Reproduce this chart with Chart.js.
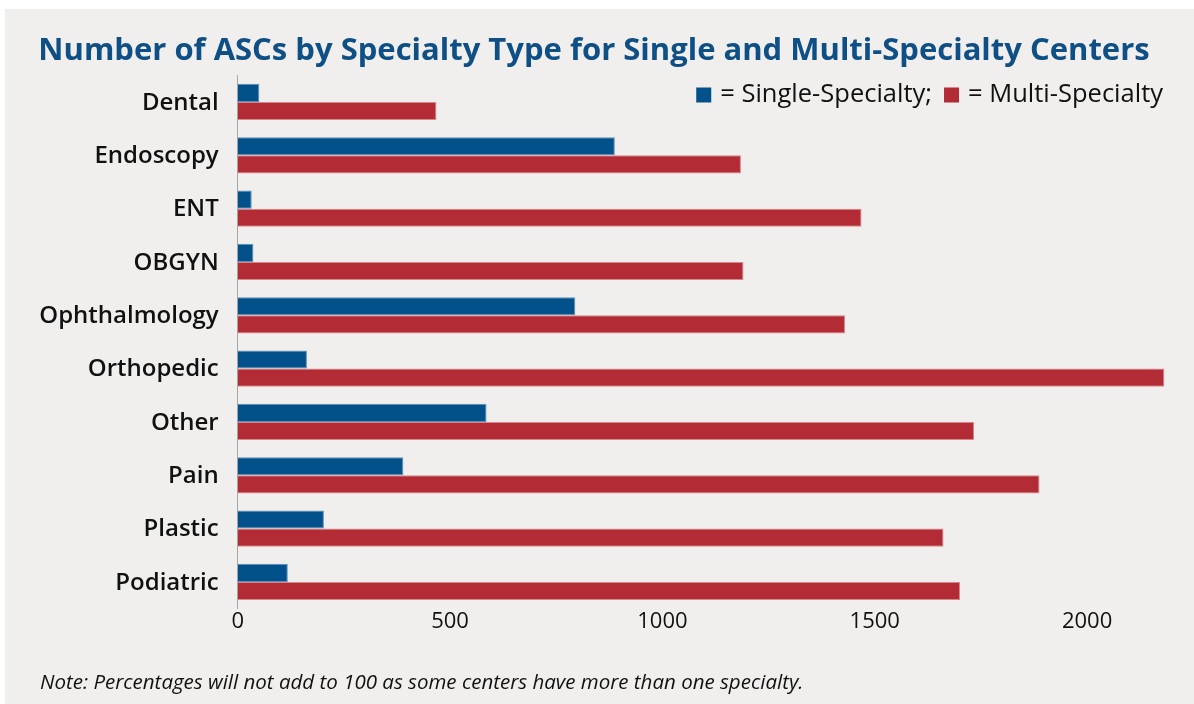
<!DOCTYPE html>
<html>
<head>
    <title>ASCs by Specialty</title>
    <script src="https://cdn.jsdelivr.net/npm/chart.js"></script>
    <style>
        body { margin: 0; background: #ffffff; }
        #panel { position: absolute; left: 5px; top: 9px; width: 1189px; height: 695px; background: #f0efed; }
    </style>
</head>
<body>
    <div id="panel"><canvas id="ascChart" width="1189" height="695"></canvas></div>

    <script>
        var specialties = ['Dental', 'Endoscopy', 'ENT', 'OBGYN', 'Ophthalmology', 'Orthopedic', 'Other', 'Pain', 'Plastic', 'Podiatric'];
        var singleSpecialty = [51, 888, 33, 37, 795, 163, 586, 390, 203, 118];
        var multiSpecialty = [468, 1185, 1469, 1191, 1430, 2182, 1734, 1888, 1662, 1701];
        var axisTicks = [0, 500, 1000, 1500, 2000];
        var noteText = 'Note: Percentages will not add to 100 as some centers have more than one specialty.';

        var fontFamily = "'Open Sans', 'DejaVu Sans', sans-serif";
        var ctx = document.getElementById('ascChart').getContext('2d');

        // legend inside the plot (top right) and the note under the axis
        var extras = {
            id: 'extras',
            afterDraw: function(chart) {
                var c = chart.ctx;
                var sets = chart.data.datasets;
                var box = 15, gap = 9, itemGap = 12;
                var right = 1158, midY = 86;
                c.save();
                c.font = '25.5px ' + fontFamily;
                c.textBaseline = 'middle';
                c.textAlign = 'left';
                var total = 0;
                sets.forEach(function(ds, i) {
                    total += box + gap + c.measureText(ds.label).width + (i < sets.length - 1 ? itemGap : 0);
                });
                var x = right - total;
                sets.forEach(function(ds) {
                    c.fillStyle = ds.backgroundColor;
                    c.fillRect(x, midY - box / 2, box, box);
                    x += box + gap;
                    c.fillStyle = '#111111';
                    c.fillText(ds.label, x, midY);
                    x += c.measureText(ds.label).width + itemGap;
                });

                c.font = 'italic 20.5px ' + fontFamily;
                c.fillStyle = '#111111';
                c.fillText(noteText, 35, 674);
                c.restore();
            }
        };

        var ascChart = new Chart(ctx, {
            type: 'bar',
            data: {
                labels: specialties,
                datasets: [{
                    label: '= Single-Specialty;',
                    data: singleSpecialty,
                    backgroundColor: '#02518a',
                    borderColor: '#5d8fb8',
                    borderWidth: 1
                }, {
                    label: '= Multi-Specialty',
                    data: multiSpecialty,
                    backgroundColor: '#b32b35',
                    borderColor: '#d9868b',
                    borderWidth: 1
                }]
            },
            plugins: [extras],
            options: {
                indexAxis: 'y',
                responsive: false,
                animation: false,
                layout: { padding: { left: 11, right: 22, top: 0, bottom: 69 } },
                datasets: { bar: { categoryPercentage: 0.68, barPercentage: 1.0 } },
                scales: {
                    x: {
                        min: 0,
                        max: 2200,
                        grid: { display: false, drawTicks: false },
                        border: { display: false },
                        afterBuildTicks: function(scale) {
                            scale.ticks = axisTicks.map(function(v) { return { value: v }; });
                        },
                        ticks: {
                            padding: 0,
                            color: '#111111',
                            font: { family: fontFamily, size: 22 },
                            callback: function(value) { return String(value); }
                        }
                    },
                    y: {
                        grid: { display: false, drawTicks: false },
                        border: { display: true, color: '#a6a6a6', width: 1 },
                        afterFit: function(scale) { scale.width = 221.7; },
                        ticks: {
                            padding: 19,
                            labelOffset: 1,
                            color: '#111111',
                            font: { family: fontFamily, size: 24, weight: '600' }
                        }
                    }
                },
                plugins: {
                    title: {
                        display: true,
                        text: 'Number of ASCs by Specialty Type for Single and Multi-Specialty Centers',
                        color: '#0e4f86',
                        font: { family: fontFamily, size: 31, weight: 'bold', lineHeight: 1.2 },
                        padding: { top: 23.4, bottom: 5.7 }
                    },
                    legend: { display: false },
                    tooltip: { enabled: false }
                }
            }
        });
    </script>
</body>
</html>
